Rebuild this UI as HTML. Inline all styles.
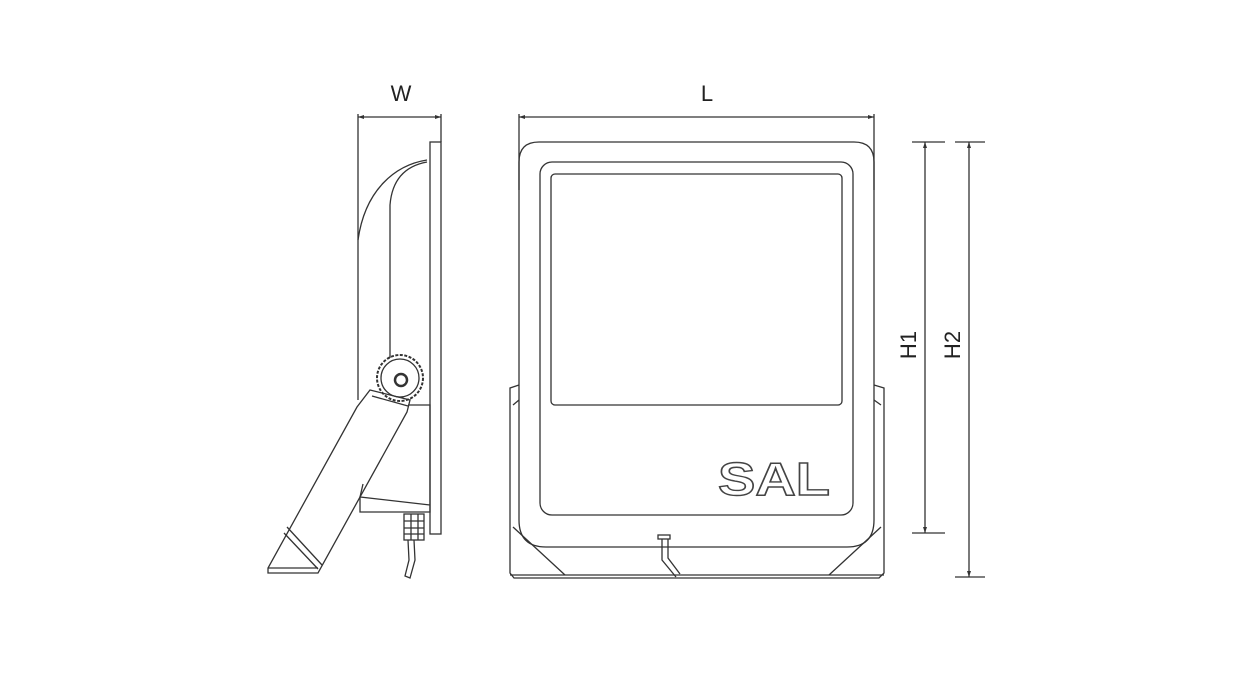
<!DOCTYPE html>
<html><head><style>
html,body{margin:0;padding:0;background:#fff;}
svg{display:block;}
text{font-family:"Liberation Sans",sans-serif;fill:#222;}
</style></head><body>
<svg width="1244" height="700" viewBox="0 0 1244 700" xmlns="http://www.w3.org/2000/svg">
<g fill="none" stroke="#333" stroke-width="1.3">
<line x1="358" y1="117" x2="441" y2="117"/>
<line x1="358" y1="114" x2="358" y2="400"/>
<line x1="441" y1="114" x2="441" y2="142"/>
<rect x="430" y="142" width="11" height="392"/>
<path d="M427 160 C395 165 365 190 358 240"/>
<path d="M427 162 C405 166 392 180 390 205 L390 358"/>
<circle cx="400" cy="378" r="23" stroke-dasharray="3 1.5" stroke-width="2"/>
<circle cx="400" cy="378" r="19"/>
<circle cx="401" cy="380" r="6" stroke-width="2.5"/>
<path d="M408 405 L430 405 L430 512 L360 512 L360 497 L430 505 M360 497 L363 484"/>
<path d="M370 390 L410 400 L407 412 L318 573 L268 573 L268 568 L357 407 Z"/>
<line x1="372" y1="396" x2="408" y2="406"/>
<line x1="287" y1="527" x2="322" y2="565"/>
<line x1="284" y1="533" x2="318" y2="569"/>
<line x1="268" y1="568" x2="318" y2="568"/>
<rect x="404" y="514" width="20" height="26"/>
<line x1="404" y1="521" x2="424" y2="521"/><line x1="404" y1="528" x2="424" y2="528"/><line x1="404" y1="534" x2="424" y2="534"/>
<line x1="411" y1="514" x2="411" y2="540"/><line x1="418" y1="514" x2="418" y2="540"/>
<path d="M408 540 L409 560 L405 576 L410 578 L415 560 L414 540"/>

<line x1="519" y1="117" x2="874" y2="117"/>
<line x1="519" y1="114" x2="519" y2="190"/>
<line x1="874" y1="114" x2="874" y2="190"/>
<path d="M519 162 Q519 142 539 142 L854 142 Q874 142 874 162 L874 520 Q874 547 847 547 L546 547 Q519 547 519 520 Z"/>
<rect x="540" y="162" width="313" height="353" rx="12"/>
<rect x="551" y="174" width="291" height="231" rx="4"/>
<path d="M519 385 L510 388 L510 573 L514 578 L879 578 L884 573 L884 388 L874 385"/>
<path d="M513 405 L519 400 M881 405 L874 400"/>
<line x1="510" y1="575" x2="884" y2="575"/>
<path d="M513 527 L565 575 M881 527 L829 575"/>
<rect x="658" y="535" width="12" height="4"/>
<path d="M662 539 L662 560 L676 577 M668 539 L668 558 L680 574"/>

<line x1="925" y1="142" x2="925" y2="533"/>
<line x1="912" y1="142" x2="945" y2="142"/>
<line x1="912" y1="533" x2="945" y2="533"/>
<line x1="969" y1="142" x2="969" y2="577"/>
<line x1="955" y1="142" x2="985" y2="142"/>
<line x1="955" y1="577" x2="985" y2="577"/>
</g>
<g fill="#333">
<path d="M923 148 L925 142 L927 148 Z"/><path d="M923 527 L925 533 L927 527 Z"/>
<path d="M967 148 L969 142 L971 148 Z"/><path d="M967 571 L969 577 L971 571 Z"/>
<path d="M519 117 L525 115 L525 119 Z"/><path d="M874 117 L868 115 L868 119 Z"/>
<path d="M358 117 L364 115 L364 119 Z"/><path d="M441 117 L435 115 L435 119 Z"/>
</g>
<text x="718" y="495" font-size="46" font-weight="bold" stroke="#444" stroke-width="1.4" textLength="112" lengthAdjust="spacingAndGlyphs" style="fill:#fff;stroke-linejoin:miter">SAL</text>
<text x="401" y="101" font-size="22" text-anchor="middle">W</text>
<text x="707" y="101" font-size="22" text-anchor="middle">L</text>
<text transform="translate(916,345) rotate(-90)" font-size="22" text-anchor="middle">H1</text>
<text transform="translate(960,345) rotate(-90)" font-size="22" text-anchor="middle">H2</text>
</svg>
</body></html>
